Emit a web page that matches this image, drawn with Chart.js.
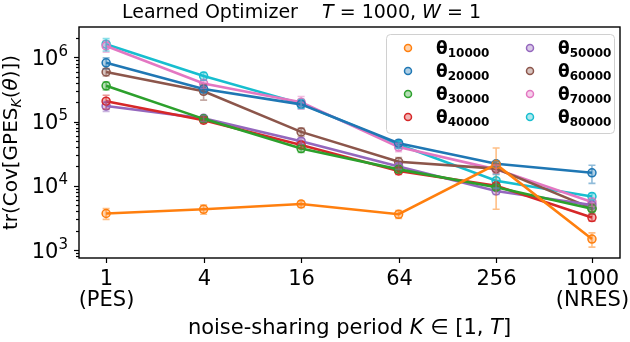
<!DOCTYPE html>
<html>
<head>
<meta charset="utf-8">
<script src="https://cdn.jsdelivr.net/npm/chart.js@4"></script>
<style>
  html, body { margin: 0; padding: 0; background: #fff; }
  canvas { display: block; }
</style>
</head>
<body>
<canvas id="c" width="630" height="342"></canvas>
<script>
// ── Data ─────────────────────────────────────────────────
const periods = [1, 4, 16, 64, 256, 1000];
const periodNames = ['PES', '', '', '', '', 'NRES'];
const yTicks = [1e3, 1e4, 1e5, 1e6];

const labels = ['10000', '20000', '30000', '40000', '50000', '60000', '70000', '80000'];
const colors = ['#ff7f0e', '#1f77b4', '#2ca02c', '#d62728', '#9467bd', '#8c564b', '#e377c2', '#17becf'];

const t10000 = [3.7e3, 4.3e3, 5.2e3, 3.6e3, 2.15e4, 1.48e3];
const t20000 = [8.2e5, 3.2e5, 1.85e5, 4.6e4, 2.2e4, 1.59e4];
const t30000 = [3.6e5, 1.1e5, 3.8e4, 1.8e4, 9.5e3, 4.4e3];
const t40000 = [2.07e5, 1.05e5, 4.3e4, 1.7e4, 1.0e4, 3.2e3];
const t50000 = [1.74e5, 1.12e5, 4.95e4, 2.0e4, 8.3e3, 5.0e3];
const t60000 = [5.9e5, 2.95e5, 6.9e4, 2.36e4, 1.85e4, 4.45e3];
const t70000 = [1.5e6, 3.9e5, 2.0e5, 4.0e4, 1.8e4, 5.6e3];
const t80000 = [1.6e6, 5.1e5, 1.9e5, 4.4e4, 1.2e4, 6.8e3];

// std (error bar half-heights)
const e10000 = [700, 700, 600, 500, 17200, 370];
const e20000 = [1.6e5, 4e4, 2.5e4, 5e3, 2e3, 5e3];
const e30000 = [5e4, 1.2e4, 5e3, 2e3, 1e3, 500];
const e40000 = [5e4, 1.2e4, 5e3, 2e3, 1e3, 400];
const e50000 = [3e4, 1.2e4, 5e3, 2e3, 1e3, 600];
const e60000 = [8e4, 8e4, 1e4, 4e3, 3e3, 800];
const e70000 = [3e5, 6e4, 4.5e4, 6e3, 3e3, 800];
const e80000 = [3.5e5, 7e4, 3e4, 6e3, 3e3, 800];

const series = [t10000, t20000, t30000, t40000, t50000, t60000, t70000, t80000];
const errors = [e10000, e20000, e30000, e40000, e50000, e60000, e70000, e80000];

const FONT = '"DejaVu Sans", sans-serif';

function alpha(hex, a) {
  const n = parseInt(hex.slice(1), 16);
  return `rgba(${n >> 16},${(n >> 8) & 255},${n & 255},${a})`;
}

// draw a list of text runs {t, font, dy} starting at x
function runsWidth(ctx, runs) {
  let w = 0;
  runs.forEach(r => { ctx.font = r.font; w += ctx.measureText(r.t).width; });
  return w;
}
function drawRuns(ctx, runs, x, y, align) {
  let cx = x;
  if (align === 'center') cx = x - runsWidth(ctx, runs) / 2;
  if (align === 'right') cx = x - runsWidth(ctx, runs);
  ctx.textAlign = 'left';
  ctx.textBaseline = 'alphabetic';
  runs.forEach(r => {
    ctx.font = r.font;
    ctx.fillText(r.t, cx, y + (r.dy || 0));
    cx += ctx.measureText(r.t).width;
  });
}

// ── Error bars ──────────────────────────────────────────────
const errorBars = {
  id: 'errorBars',
  afterDatasetsDraw(chart) {
    const { ctx, scales: { x, y } } = chart;
    ctx.save();
    ctx.lineWidth = 1.6;
    series.forEach((vals, i) => {
      ctx.strokeStyle = alpha(colors[i], 0.5);
      vals.forEach((v, j) => {
        const px = x.getPixelForValue(periods[j]);
        const lo = y.getPixelForValue(Math.max(v - errors[i][j], 1));
        const hi = y.getPixelForValue(v + errors[i][j]);
        ctx.beginPath();
        ctx.moveTo(px, lo); ctx.lineTo(px, hi);
        ctx.moveTo(px - 3.5, lo); ctx.lineTo(px + 3.5, lo);
        ctx.moveTo(px - 3.5, hi); ctx.lineTo(px + 3.5, hi);
        ctx.stroke();
      });
    });
    ctx.restore();
  }
};

// ── Frame, ticks, texts, legend ─────────────────────────────
const decor = {
  id: 'decor',
  afterDraw(chart) {
    const { ctx, chartArea: a, scales: { x, y } } = chart;
    ctx.save();
    ctx.fillStyle = '#000';
    ctx.strokeStyle = '#000';

    // spines
    ctx.lineWidth = 1.4;
    ctx.strokeRect(a.left, a.top, a.right - a.left, a.bottom - a.top);

    // y ticks (major + minor)
    ctx.lineWidth = 1.2;
    for (let e = 2; e <= 6; e++) {
      for (let m = 1; m <= 9; m++) {
        const v = m * Math.pow(10, e);
        if (v < y.min || v > y.max) continue;
        const py = Math.round(y.getPixelForValue(v)) + 0.5;
        const len = m === 1 ? 5 : 3;
        ctx.beginPath(); ctx.moveTo(a.left - len, py); ctx.lineTo(a.left, py); ctx.stroke();
      }
    }
    yTicks.forEach(v => {
      const py = y.getPixelForValue(v);
      const exp = String(Math.round(Math.log10(v)));
      drawRuns(ctx, [
        { t: '10', font: `21px ${FONT}` },
        { t: exp, font: `15px ${FONT}`, dy: -9 }
      ], 68, py + 7.5, 'right');
    });

    // x ticks
    periods.forEach((k, i) => {
      const px = Math.round(x.getPixelForValue(k)) + 0.5;
      ctx.beginPath(); ctx.moveTo(px, a.bottom); ctx.lineTo(px, a.bottom + 5); ctx.stroke();
      ctx.font = `21px ${FONT}`;
      ctx.textAlign = 'center';
      ctx.textBaseline = 'alphabetic';
      ctx.fillText(String(k), px, 285);
      if (periodNames[i]) ctx.fillText('(' + periodNames[i] + ')', px, 306);
    });

    // title
    drawRuns(ctx, [
      { t: 'Learned Optimizer    ', font: `19px ${FONT}` },
      { t: 'T', font: `italic 19px ${FONT}` },
      { t: ' = 1000, ', font: `19px ${FONT}` },
      { t: 'W', font: `italic 19px ${FONT}` },
      { t: ' = 1', font: `19px ${FONT}` }
    ], 122, 18, 'left');

    // x label
    drawRuns(ctx, [
      { t: 'noise-sharing period ', font: `21px ${FONT}` },
      { t: 'K', font: `italic 21px ${FONT}` },
      { t: ' ∈ [1, ', font: `21px ${FONT}` },
      { t: 'T', font: `italic 21px ${FONT}` },
      { t: ']', font: `21px ${FONT}` }
    ], (a.left + a.right) / 2, 334, 'center');

    // y label
    ctx.save();
    ctx.translate(17, (a.top + a.bottom) / 2);
    ctx.rotate(-Math.PI / 2);
    drawRuns(ctx, [
      { t: 'tr(Cov[GPES', font: `20px ${FONT}` },
      { t: 'K', font: `italic 14px ${FONT}`, dy: 4 },
      { t: '(', font: `20px ${FONT}` },
      { t: 'θ', font: `italic 20px ${FONT}` },
      { t: ')])', font: `20px ${FONT}` }
    ], 0, 0, 'center');
    ctx.restore();

    // legend
    const bx = 386, by = 34, bw = 228, bh = 99;
    ctx.beginPath();
    ctx.roundRect(bx + 0.5, by + 0.5, bw, bh, 4);
    ctx.fillStyle = 'rgba(255,255,255,0.8)';
    ctx.fill();
    ctx.strokeStyle = '#d0d0d0';
    ctx.lineWidth = 1;
    ctx.stroke();
    labels.forEach((lab, i) => {
      const col = Math.floor(i / 4), row = i % 4;
      const mx = 408 + col * 122, my = 48 + row * 23;
      ctx.beginPath();
      ctx.arc(mx, my, 3.5, 0, Math.PI * 2);
      ctx.fillStyle = alpha(colors[i], 0.35);
      ctx.fill();
      ctx.strokeStyle = colors[i];
      ctx.lineWidth = 1.5;
      ctx.stroke();
      ctx.fillStyle = '#000';
      drawRuns(ctx, [
        { t: 'θ', font: `bold 17px ${FONT}` },
        { t: lab, font: `bold 12px ${FONT}`, dy: 3 }
      ], mx + 28, my + 6, 'left');
    });

    ctx.restore();
  }
};

// ── Chart ───────────────────────────────────────────────────
new Chart(document.getElementById('c').getContext('2d'), {
  type: 'line',
  data: {
    datasets: series.map((vals, i) => ({
      label: 'θ' + labels[i],
      data: vals.map((v, j) => ({ x: periods[j], y: v })),
      borderColor: colors[i],
      backgroundColor: alpha(colors[i], 0.35),
      pointBackgroundColor: alpha(colors[i], 0.35),
      pointBorderColor: colors[i],
      pointBorderWidth: 1.5,
      pointRadius: 4,
      borderWidth: 2.6,
      tension: 0,
      fill: false
    }))
  },
  options: {
    responsive: false,
    animation: false,
    devicePixelRatio: 1,
    layout: { padding: { left: 79, top: 27, right: 10, bottom: 84 } },
    plugins: { legend: { display: false }, title: { display: false }, tooltip: { enabled: false } },
    scales: {
      x: { type: 'logarithmic', min: 0.68, max: 1490, display: false },
      y: { type: 'logarithmic', min: 751, max: 2.96e6, display: false }
    }
  },
  plugins: [errorBars, decor]
});
</script>
</body>
</html>
